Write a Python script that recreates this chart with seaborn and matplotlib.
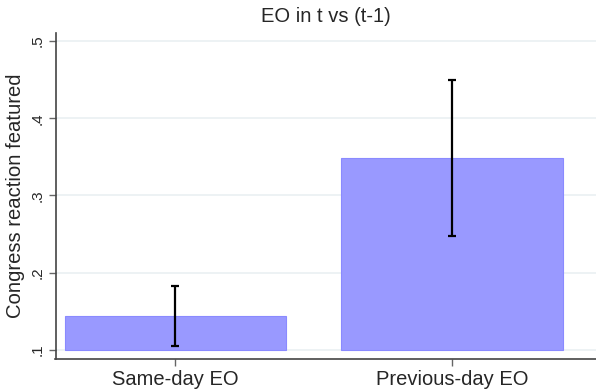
import matplotlib
matplotlib.use("Agg")
import matplotlib.pyplot as plt
import seaborn as sns
import pandas as pd

categories = ["Same-day EO", "Previous-day EO"]
means = [0.1444, 0.3487]
ci_low = [0.1048, 0.2473]
ci_high = [0.1829, 0.4494]
base = 0.1
yticks = [0.1, 0.2, 0.3, 0.4, 0.5]
ytick_labels = [".1", ".2", ".3", ".4", ".5"]
title = "EO in t vs (t-1)"
ylabel = "Congress reaction featured"

sns.set_theme(style="white")
plt.rcParams["font.family"] = ["Liberation Sans", "DejaVu Sans"]

df = pd.DataFrame({"cat": categories, "val": means})

fig = plt.figure(figsize=(5.96, 3.89), dpi=100)
ax = fig.add_axes([55.5 / 596, 1 - 359 / 389, 1 - 55.5 / 596, (359 - 33) / 389])

sns.barplot(data=df, x="cat", y="val", order=categories, color="#9999ff",
            saturation=1, errorbar=None, width=0.8, edgecolor="#8a8aff",
            linewidth=0.8, ax=ax, zorder=2)
for p in ax.patches:
    h = p.get_height()
    p.set_y(base)
    p.set_height(h - base)

xs = list(range(len(categories)))
lo = [m - l for m, l in zip(means, ci_low)]
hi = [h - m for m, h in zip(means, ci_high)]
ax.errorbar(xs, means, yerr=[lo, hi], fmt="none", ecolor="black",
            elinewidth=1.6, capsize=3.2, capthick=1.6, zorder=3)

ax.set_ylim(0.0883, 0.5104)
ax.set_xlim(-0.433, 1.52)
ax.set_yticks(yticks)
ax.set_yticklabels(ytick_labels, rotation=90, va="center", fontsize=11)
ax.set_xticks(xs)
ax.set_xticklabels(categories, fontsize=14.5)
ax.grid(axis="y", color="#eaf0f2", linewidth=1.2, zorder=0)
ax.set_axisbelow(True)
ax.set_xlabel("")
ax.set_ylabel(ylabel, fontsize=14.6, labelpad=4)
ax.set_title(title, fontsize=14.5, pad=8)

for s in ["top", "right"]:
    ax.spines[s].set_visible(False)
for s in ["left", "bottom"]:
    ax.spines[s].set_color("#444444")
    ax.spines[s].set_linewidth(1.2)
ax.tick_params(axis="both", which="major", length=5, width=1, color="#666666",
               left=True, bottom=True, pad=3)

fig.savefig("out.png", dpi=100)
